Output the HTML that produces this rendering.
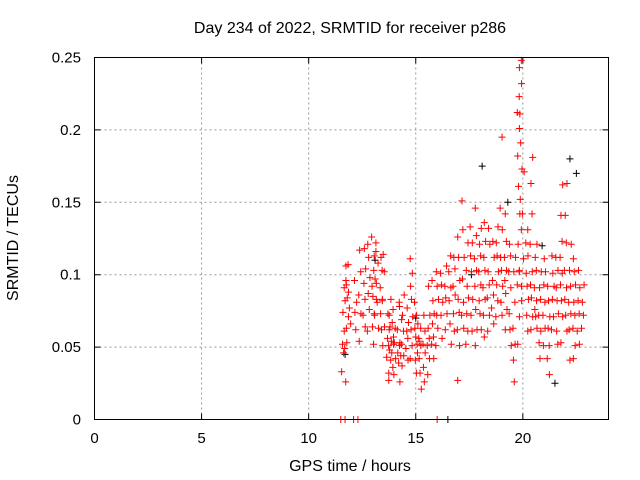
<!DOCTYPE html>
<html><head><meta charset="utf-8"><style>
html,body{margin:0;padding:0;background:#fff;}
svg{display:block;font-family:"Liberation Sans",sans-serif;}
</style></head><body>
<svg id="chart" width="640" height="480" viewBox="0 0 640 480" xmlns="http://www.w3.org/2000/svg">
<rect width="640" height="480" fill="#fff"/>
<text x="350" y="33" font-size="16" text-anchor="middle" fill="#000">Day 234 of 2022, SRMTID for receiver p286</text>
<g id="grid"></g>
<g id="axes"></g>
<g id="black-series"></g>
<g id="red-series"></g>
<rect x="94.5" y="57.5" width="514" height="362" fill="none" stroke="#000" stroke-width="1"/>
<text x="350" y="471" font-size="16" text-anchor="middle">GPS time / hours</text>
<text x="18" y="238" font-size="16" text-anchor="middle" transform="rotate(-90 18 238)">SRMTID / TECUs</text>
</svg>
<script>
const xTicks=[0,5,10,15,20];
const yTicks=[0,0.05,0.1,0.15,0.2,0.25];
const yTickLabels=["0","0.05","0.1","0.15","0.2","0.25"];
const colTimes=[11.6,11.7,11.8,11.9,12.2,12.4,12.6,12.8,13.0,13.1,13.2,13.4,13.5,13.7,13.8,13.9,14.0,14.2,14.3,14.4,14.6,14.8,15.0,15.1,15.2,15.4,15.6,15.8,16.0,16.2,16.4,16.6,16.8,17.0,17.2,17.4,17.6,17.8,18.0,18.2,18.4,18.6,18.8,19.0,19.2,19.4,19.6,19.8,19.9,20.0,20.2,20.4,20.6,20.8,21.0,21.2,21.4,21.6,21.8,22.0,22.2,22.4,22.6,22.8];
const colValues=[[3.3,4.6,5.2,6.1,7.4],[2.6,4.9,6.3,8.2,9.1,10.6],[5.3,7.1,8.4,9.3,10.7,9.6],[6.6,7.7,8.8],[6.2,7.4,8.1,9.6],[5.4,7.3,8.6,10.2,11.7],[6.4,7.2,8.3,9.4,10.4,11.8],[6.1,7.6,8.7,9.8,11.2,12.1],[5.2,6.4,7.3,8.5,9.2,10.3,12.6],[7.2,8.3,9.7,11.3,12.2],[6.3,8.1,9.4,10.8,11.6],[6.2,7.3,8.2,9.1,10.3,11.2],[5.1,6.4,8.3,10.2,11.4],[3.2,4.3,5.1,5.6,6.2,7.3],[2.7,4.1,4.8,5.4,6.4,7.2,8.3],[3.6,4.6,5.2,6.7],[3.1,4.2,5.3,5.7,6.3,7.6],[2.6,3.9,4.6,5.1,6.2,8.1],[4.4,5.3,6.9,7.8],[3.7,4.4,5.2,6.1,7.2,8.6],[4.1,4.9,5.6,6.1,6.7,7.7],[4.2,5.1,6.2,7.1,8.3,9.2,10.1,11.1],[3.2,4.1,5.2,5.7,6.3,7.2,8.1],[4.6,5.4,6.6],[2.1,3.2,4.2,5.1,5.6,6.3],[2.6,3.6,4.6,5.2,6.1,7.2],[3.1,4.2,5.1,5.6,6.3,7.2,9.2],[4.2,5.2,5.7,6.6,7.3,8.2,9.6],[5.1,6.3,7.2,8.3,9.2,10.2],[5.6,7.2,8.1,9.3,10.1],[6.2,7.3,8.4,9.2,10.6],[5.2,6.6,8.2,9.1,10.2,11.3],[6.1,7.3,8.6,9.2,10.4,11.2],[2.7,5.1,6.2,7.4,8.3,9.6,11.2,12.6],[6.3,7.2,8.1,9.7,11.2,13.1,15.1],[5.2,6.1,7.3,8.4,9.2,10.3,12.2],[6.1,7.2,8.3,10.2,11.3,12.2,13.3],[5.1,6.2,7.6,9.2,10.3,11.1,12.7,14.6],[6.2,7.3,8.2,9.3,10.2,11.3,12.1,13.2],[5.7,7.2,8.3,9.1,10.3,11.2,12.3,13.6],[6.1,7.2,8.4,9.3,10.2,12.1,13.2],[6.6,7.7,8.6,9.6,11.2,12.3],[7.1,8.2,9.3,10.2,11.3,12.2,13.3],[7.2,8.1,9.2,10.3,11.2,13.1,14.6,19.5],[6.2,7.6,8.7,9.6,10.3,11.2,12.3,14.2],[5.1,6.2,7.3,9.1,10.2,11.3,12.1],[2.6,4.1,5.2,6.3,8.1,10.2,11.2],[5.2,7.1,9.3,10.2,12.1,14.2,16.1,18.2,20.1,21.2,22.3],[8.2,10.3,13.1,15.2,17.3,19.1,21.1,23.2,24.3,24.8],[9.2,11.1,14.2,17.1],[6.1,7.2,8.3,9.2,10.1,11.3,12.2,13.1],[6.2,7.1,8.4,9.3,10.2,12.1,14.2,16.3,18.1],[6.3,7.1,7.6,8.2,9.1,10.3,11.2,12.1],[4.2,5.3,6.1,7.2,8.3,9.1,10.2],[5.1,6.3,7.2,8.1,9.3,10.2,11.1],[3.1,4.2,5.1,6.3,7.1,8.2,9.2],[6.2,7.1,8.3,9.2,10.1,11.3],[5.2,6.1,7.3,8.2,9.1,10.3,11.2],[5.3,7.1,8.2,9.3,10.1,11.2,12.3,14.1,16.2],[6.1,7.2,8.3,9.1,10.3,12.2,14.1,16.3],[4.1,6.2,7.3,8.1,9.2,10.3,12.1],[4.2,5.1,6.3,7.2,8.1,9.3,10.2,11.1],[5.2,6.1,7.3,8.2,9.1,10.3],[6.3,7.2,8.1,9.3]];
const blackTimes=[11.7,13.1,15.0,16.5,18.1,19.3,20.9,21.5,22.2,22.5,17.6];
const blackValues=[4.5,11,7,0,17.5,15,12,2.5,18,17,10];
const zeroRedTimes=[11.5,11.7,12.1,12.3,16.0];

const X0=94.5,X1=608.5,Y0=419.5,Y1=57.5;
const sx=t=>X0+(t/24)*(X1-X0);
const sy=v=>Y0-(v/0.25)*(Y0-Y1);
const NS="http://www.w3.org/2000/svg";
function mk(tag,attrs,parent){const e=document.createElementNS(NS,tag);for(const k in attrs)e.setAttribute(k,attrs[k]);parent.appendChild(e);return e;}
const grid=document.getElementById('grid'),axes=document.getElementById('axes');
xTicks.forEach((t,i)=>{
  const x=sx(t);
  if(t>0){const l=mk('line',{x1:x,x2:x,y1:Y1,y2:Y0,stroke:'#999','stroke-dasharray':'2,3'},grid);
  
  }
  const tk=mk('path',{d:`M${x},${Y0}v-6M${x},${Y1}v6`,stroke:'#000'},axes);
  
  
  const tx=mk('text',{x:x,y:443,'font-size':15,'text-anchor':'middle'},axes);tx.textContent=String(t);
  
  
});
yTicks.forEach((v,i)=>{
  const y=sy(v);
  if(v>0&&v<0.25){const l=mk('line',{x1:X0,x2:X1,y1:y,y2:y,stroke:'#999','stroke-dasharray':'2,3'},grid);
  
  }
  const tk=mk('path',{d:`M${X0},${y}h6M${X1},${y}h-6`,stroke:'#000'},axes);
  
  
  const tx=mk('text',{x:81,y:y+5,'font-size':15,'text-anchor':'end'},axes);tx.textContent=yTickLabels[i];
  
  
});
function plus(g,t,v,color){
  const x=sx(t),y=sy(v);
  const p=mk('path',{d:`M${x-3.5},${y}h7M${x},${y-3.5}v7`,stroke:color,'stroke-width':1},g);
  
  
}
const bg=document.getElementById('black-series'),rg=document.getElementById('red-series');
const offs=[-0.06,0.03,-0.02,0.06,0,-0.04,0.04];
blackTimes.forEach((t,i)=>plus(bg,t,blackValues[i]/100,'#000'));
colTimes.forEach((t,i)=>{colValues[i].forEach((v,j)=>{plus(rg,t+offs[(i+j)%offs.length],v/100,'#f00');});});
zeroRedTimes.forEach(t=>plus(rg,t,0,'#f00'));
</script>
</body></html>
